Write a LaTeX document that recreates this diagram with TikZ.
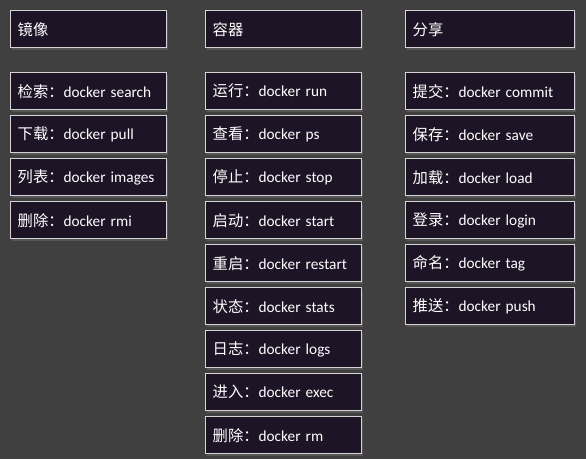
\documentclass[tikz,border=0pt]{standalone}
\usepackage{fontspec}
\setmainfont{Carlito}
\newfontfamily\cjk{Noto Sans CJK SC}
\definecolor{bgc}{HTML}{404040}
\definecolor{boxc}{HTML}{1D1526}
\definecolor{edgec}{HTML}{D4D4D4}
\begin{document}
\begin{tikzpicture}[x=1pt,y=-1pt,
  cmdbox/.style={draw=edgec,line width=1.4pt,fill=boxc,text=white,
    minimum height=37pt,inner xsep=7pt,anchor=north west,align=left,
    text width=#1,font=\fontsize{15.3}{18}\selectfont,
    drop shadow={opacity=0.35,shadow xshift=1pt,shadow yshift=-2pt}},
  cmdbox/.default=142pt]
\usetikzlibrary{shadows}
\fill[bgc] (0,0) rectangle (586,459);
% column 1
\node[cmdbox=142pt] (h1) at (10,10) {\cjk 镜像};
\node[cmdbox=142pt] (a1) at (10,72) {{\cjk 检索：}docker search};
\node[cmdbox=142pt] (a2) at (10,115) {{\cjk 下载：}docker pull};
\node[cmdbox=142pt] (a3) at (10,158) {{\cjk 列表：}docker images};
\node[cmdbox=142pt] (a4) at (10,201) {{\cjk 删除：}docker rmi};
% column 2
\node[cmdbox=142pt] (h2) at (205,10) {\cjk 容器};
\node[cmdbox=142pt] (b1) at (205,72) {{\cjk 运行：}docker run};
\node[cmdbox=142pt] (b2) at (205,115) {{\cjk 查看：}docker ps};
\node[cmdbox=142pt] (b3) at (205,158) {{\cjk 停止：}docker stop};
\node[cmdbox=142pt] (b4) at (205,201) {{\cjk 启动：}docker start};
\node[cmdbox=142pt] (b5) at (205,244) {{\cjk 重启：}docker restart};
\node[cmdbox=142pt] (b6) at (205,287) {{\cjk 状态：}docker stats};
\node[cmdbox=142pt] (b7) at (205,330) {{\cjk 日志：}docker logs};
\node[cmdbox=142pt] (b8) at (205,373) {{\cjk 进入：}docker exec};
\node[cmdbox=142pt] (b9) at (205,416) {{\cjk 删除：}docker rm};
% column 3
\node[cmdbox=155pt] (h3) at (405,10) {\cjk 分享};
\node[cmdbox=155pt] (c1) at (405,72) {{\cjk 提交：}docker commit};
\node[cmdbox=155pt] (c2) at (405,115) {{\cjk 保存：}docker save};
\node[cmdbox=155pt] (c3) at (405,158) {{\cjk 加载：}docker load};
\node[cmdbox=155pt] (c4) at (405,201) {{\cjk 登录：}docker login};
\node[cmdbox=155pt] (c5) at (405,244) {{\cjk 命名：}docker tag};
\node[cmdbox=155pt] (c6) at (405,287) {{\cjk 推送：}docker push};
\end{tikzpicture}
\end{document}
